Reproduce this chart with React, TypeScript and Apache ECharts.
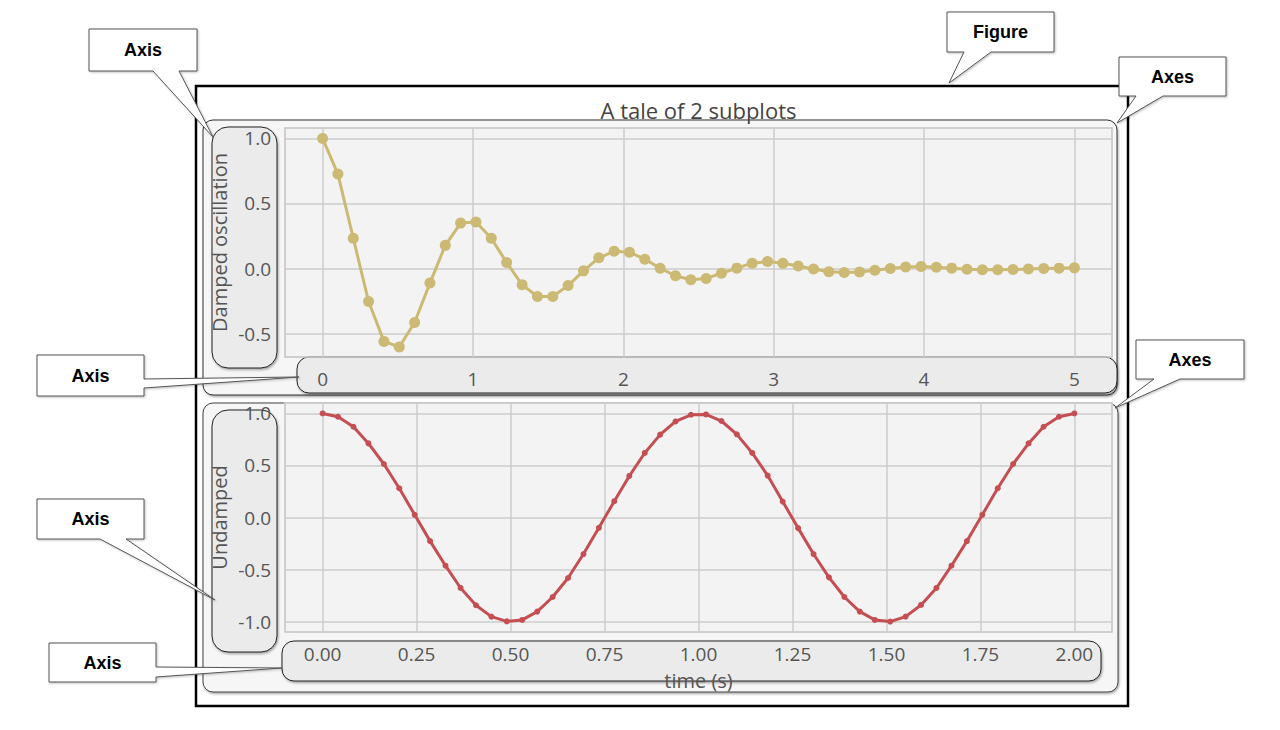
import React, { useEffect, useRef } from "react";
import * as echarts from "echarts";

// ---- data ----
const titleText = "A tale of 2 subplots";
const dampedName = "Damped oscillation";
const undampedName = "Undamped";
const xName = "time (s)";

const dampedT = [
  0, 0.102, 0.204, 0.306, 0.408, 0.51, 0.612, 0.714, 0.816, 0.918,
  1.02, 1.122, 1.224, 1.327, 1.429, 1.531, 1.633, 1.735, 1.837, 1.939,
  2.041, 2.143, 2.245, 2.347, 2.449, 2.551, 2.653, 2.755, 2.857, 2.959,
  3.061, 3.163, 3.265, 3.367, 3.469, 3.571, 3.673, 3.776, 3.878, 3.98,
  4.082, 4.184, 4.286, 4.388, 4.49, 4.592, 4.694, 4.796, 4.898, 5.0,
];
const dampedY = [
  1.0, 0.726, 0.233, -0.254, -0.56, -0.603, -0.415, -0.112, 0.178, 0.349,
  0.358, 0.232, 0.046, -0.125, -0.215, -0.215, -0.131, -0.018, 0.082, 0.132,
  0.125, 0.072, 0.002, -0.056, -0.086, -0.076, -0.036, 0.003, 0.041, 0.054,
  0.041, 0.02, -0.004, -0.025, -0.031, -0.026, -0.013, 0.0, 0.012, 0.015,
  0.01, 0.003, -0.006, -0.01, -0.01, -0.008, -0.004, 0.0, 0.003, 0.005,
];
const undampedT = [
  0, 0.041, 0.082, 0.122, 0.163, 0.204, 0.245, 0.286, 0.327, 0.367,
  0.408, 0.449, 0.49, 0.531, 0.571, 0.612, 0.653, 0.694, 0.735, 0.776,
  0.816, 0.857, 0.898, 0.939, 0.98, 1.02, 1.061, 1.102, 1.143, 1.184,
  1.224, 1.265, 1.306, 1.347, 1.388, 1.429, 1.469, 1.51, 1.551, 1.592,
  1.633, 1.673, 1.714, 1.755, 1.796, 1.837, 1.878, 1.918, 1.959, 2.0,
];
const undampedY = [
  1.0, 0.968, 0.872, 0.712, 0.514, 0.281, 0.026, -0.227, -0.463, -0.677,
  -0.843, -0.952, -0.998, -0.984, -0.904, -0.764, -0.581, -0.351, -0.099, 0.157,
  0.399, 0.62, 0.796, 0.923, 0.987, 0.99, 0.927, 0.799, 0.62, 0.403,
  0.153, -0.102, -0.351, -0.575, -0.764, -0.904, -0.984, -1.0, -0.952, -0.84,
  -0.677, -0.463, -0.227, 0.026, 0.281, 0.514, 0.712, 0.872, 0.968, 1.0,
];

// callout labels
const calloutTexts = ["Axis", "Axis", "Axis", "Axis", "Figure", "Axes", "Axes"];

// ---- styles ----
const GOLD = "#CCB974";
const RED = "#C44E52";
const GRIDC = "#cccccc";
const LABELC = "#555555";
const FONT = "'Open Sans', 'Noto Sans', sans-serif";

function onMultiple(v: number, step: number) {
  const r = v / step;
  return Math.abs(r - Math.round(r)) < 1e-6;
}

function axisBase() {
  return {
    type: "value",
    axisLine: { show: false },
    axisTick: { show: false },
    splitLine: { show: true, lineStyle: { color: GRIDC, width: 1.5 } },
    nameMoveOverlap: false,
    z: 4,
  };
}

// callout bubble polygons (positions only)
const bubbles: { pts: number[][]; cx: number; cy: number }[] = [
  { pts: [[89, 29], [197, 29], [197, 71], [179, 71], [213, 137], [153, 71], [89, 71]], cx: 143, cy: 50 },
  { pts: [[37, 355], [144, 355], [144, 379], [299, 377], [144, 388], [144, 396], [37, 396]], cx: 90.5, cy: 375.5 },
  { pts: [[37, 499], [144, 499], [144, 539], [126, 539], [215, 600], [100, 539], [37, 539]], cx: 90.5, cy: 519 },
  { pts: [[49, 643], [156, 643], [156, 667], [282, 668], [156, 677], [156, 682], [49, 682]], cx: 102.5, cy: 662.5 },
  { pts: [[947, 12], [1054, 12], [1054, 52], [991, 52], [949, 83], [964, 52], [947, 52]], cx: 1000.5, cy: 32 },
  { pts: [[1119, 57], [1226, 57], [1226, 96], [1163, 96], [1117, 123], [1136, 96], [1119, 96]], cx: 1172.5, cy: 76.5 },
  { pts: [[1136, 340], [1244, 340], [1244, 379], [1180, 379], [1115, 408], [1154, 379], [1136, 379]], cx: 1190, cy: 359.5 },
];

export default function App() {
  const ref = useRef<HTMLDivElement>(null);

  useEffect(() => {
    if (!ref.current) return;
    const chart = echarts.init(ref.current, undefined, { renderer: "svg" });

    const boxShadow = {
      shadowBlur: 2,
      shadowColor: "rgba(0,0,0,0.35)",
      shadowOffsetX: 1,
      shadowOffsetY: 1.5,
    };

    const graphics: any[] = [
      // figure border
      {
        type: "rect",
        z: 1,
        shape: { x: 196, y: 86, width: 932, height: 620 },
        style: { fill: "#ffffff", stroke: "#000000", lineWidth: 2.5 },
      },
      // axes rectangles
      {
        type: "rect",
        z: 1,
        shape: { x: 203, y: 120, width: 914, height: 275, r: 10 },
        style: { fill: "#f6f6f6", stroke: "#333333", lineWidth: 1, ...boxShadow },
      },
      {
        type: "rect",
        z: 1,
        shape: { x: 203, y: 403, width: 915, height: 289, r: 10 },
        style: { fill: "#f6f6f6", stroke: "#444444", lineWidth: 1, ...boxShadow },
      },
      // axis highlight boxes
      {
        type: "rect",
        z: 3,
        shape: { x: 212, y: 127, width: 65, height: 241, r: 16 },
        style: { fill: "#ebebeb", stroke: "#222222", lineWidth: 1, ...boxShadow },
      },
      {
        type: "rect",
        z: 3,
        shape: { x: 297, y: 357, width: 820, height: 36, r: 12 },
        style: { fill: "#ebebeb", stroke: "#222222", lineWidth: 1, ...boxShadow },
      },
      {
        type: "rect",
        z: 3,
        shape: { x: 212, y: 410, width: 65, height: 242, r: 16 },
        style: { fill: "#ebebeb", stroke: "#222222", lineWidth: 1, ...boxShadow },
      },
      {
        type: "rect",
        z: 3,
        shape: { x: 282, y: 641, width: 819, height: 40, r: 12 },
        style: { fill: "#ebebeb", stroke: "#222222", lineWidth: 1, ...boxShadow },
      },
      // title
      {
        type: "text",
        z: 5,
        x: 698.5,
        y: 110,
        style: {
          text: titleText,
          fontSize: 22,
          fontFamily: FONT,
          fill: "#444444",
          align: "center",
          verticalAlign: "middle",
          textAlign: "center",
          textVerticalAlign: "middle",
        },
      },
    ];

    bubbles.forEach((b, i) => {
      graphics.push({
        type: "polygon",
        z: 20,
        shape: { points: b.pts },
        style: {
          fill: "#ffffff",
          stroke: "#555555",
          lineWidth: 1,
          shadowBlur: 2,
          shadowColor: "rgba(0,0,0,0.25)",
          shadowOffsetX: 1,
          shadowOffsetY: 1,
        },
      });
      graphics.push({
        type: "text",
        z: 21,
        x: b.cx,
        y: b.cy,
        style: {
          text: calloutTexts[i],
          fontSize: 18,
          fontWeight: "bold",
          fontFamily: "'Liberation Sans', Arial, sans-serif",
          fill: "#000000",
          align: "center",
          verticalAlign: "middle",
          textAlign: "center",
          textVerticalAlign: "middle",
        },
      });
    });

    const option: any = {
      animation: false,
      textStyle: { fontFamily: FONT },
      grid: [
        {
          left: 285, top: 128, width: 827, height: 229,
          show: true, backgroundColor: "#f3f3f3", borderColor: GRIDC, borderWidth: 1.5,
          containLabel: false, outerBoundsMode: "none", z: 2,
        },
        {
          left: 285, top: 403, width: 827, height: 229,
          show: true, backgroundColor: "#f3f3f3", borderColor: GRIDC, borderWidth: 1.5,
          containLabel: false, outerBoundsMode: "none", z: 2,
        },
      ],
      xAxis: [
        {
          ...axisBase(),
          gridIndex: 0,
          min: -0.25,
          max: 5.25,
          minInterval: 1,
          maxInterval: 1,
          axisLabel: {
            showMinLabel: false,
            showMaxLabel: false,
            color: LABELC,
            fontSize: 19,
            margin: 12,
            fontFamily: FONT,
            formatter: (v: number) => (onMultiple(v, 1) ? String(Math.round(v)) : ""),
          },
        },
        {
          ...axisBase(),
          gridIndex: 1,
          min: -0.1,
          max: 2.1,
          minInterval: 0.25,
          maxInterval: 0.25,
          name: xName,
          nameLocation: "middle",
          nameGap: 38,
          nameTextStyle: { color: LABELC, fontSize: 20, fontFamily: FONT },
          axisLabel: {
            showMinLabel: false,
            showMaxLabel: false,
            color: LABELC,
            fontSize: 19,
            margin: 12,
            fontFamily: FONT,
            formatter: (v: number) => (onMultiple(v, 0.25) ? v.toFixed(2) : ""),
          },
        },
      ],
      yAxis: [
        {
          ...axisBase(),
          gridIndex: 0,
          min: -0.68,
          max: 1.08,
          minInterval: 0.5,
          maxInterval: 0.5,
          name: dampedName,
          nameLocation: "middle",
          nameGap: 56,
          nameTextStyle: { color: LABELC, fontSize: 20, fontFamily: FONT },
          axisLabel: {
            showMinLabel: false,
            showMaxLabel: false,
            color: LABELC,
            fontSize: 19,
            margin: 14,
            fontFamily: FONT,
            formatter: (v: number) => (onMultiple(v, 0.5) ? v.toFixed(1) : ""),
          },
        },
        {
          ...axisBase(),
          gridIndex: 1,
          min: -1.1,
          max: 1.1,
          minInterval: 0.5,
          maxInterval: 0.5,
          name: undampedName,
          nameLocation: "middle",
          nameGap: 56,
          nameTextStyle: { color: LABELC, fontSize: 20, fontFamily: FONT },
          axisLabel: {
            showMinLabel: false,
            showMaxLabel: false,
            color: LABELC,
            fontSize: 19,
            margin: 14,
            fontFamily: FONT,
            formatter: (v: number) => (onMultiple(v, 0.5) ? v.toFixed(1) : ""),
          },
        },
      ],
      series: [
        {
          type: "line",
          xAxisIndex: 0,
          yAxisIndex: 0,
          data: dampedT.map((t, i) => [t, dampedY[i]]),
          symbol: "circle",
          symbolSize: 11,
          showAllSymbol: true,
          lineStyle: { color: GOLD, width: 3 },
          itemStyle: { color: GOLD },
          z: 6,
        },
        {
          type: "line",
          xAxisIndex: 1,
          yAxisIndex: 1,
          data: undampedT.map((t, i) => [t, undampedY[i]]),
          symbol: "circle",
          symbolSize: 6,
          showAllSymbol: true,
          lineStyle: { color: RED, width: 3 },
          itemStyle: { color: RED },
          z: 6,
        },
      ],
      graphic: { elements: graphics },
    };

    chart.setOption(option);
    return () => chart.dispose();
  }, []);

  return (
    <div
      ref={ref}
      style={{ position: "absolute", left: 0, top: 0, width: 1280, height: 730, background: "#ffffff" }}
    />
  );
}
